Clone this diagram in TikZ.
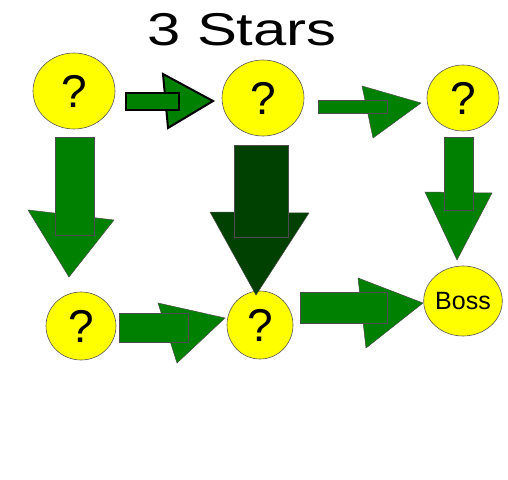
\documentclass[tikz,border=0pt]{standalone}
\usepackage{fontspec}
\setmainfont{Liberation Sans}
\usetikzlibrary{shapes.geometric}
\definecolor{pgreen}{RGB}{0,128,0}
\definecolor{dgreen}{RGB}{0,64,0}
\definecolor{pyellow}{RGB}{255,255,0}
\begin{document}
\begin{tikzpicture}[x=1pt,y=-1pt,
  spot/.style={ellipse,draw=black!65,line width=0.6pt,fill=pyellow,inner sep=0pt},
  qmark/.style={font=\fontsize{46}{46}\selectfont},
  blockarrow/.style={fill=pgreen,draw=black!70,line width=0.5pt,line join=miter},
  darkarrow/.style={fill=dgreen,draw=black!70,line width=0.5pt},
  boldarrow/.style={fill=pgreen,draw=black,line width=2pt}]
\useasboundingbox[fill=white] (0,0) rectangle (508,479);
% title
\node[font=\fontsize{46}{46}\selectfont,xscale=1.3] (title) at (242,30) {3 Stars};
% circles
\node[spot,minimum width=82pt,minimum height=76pt,qmark] (c1) at (74,91) {?};
\node[spot,minimum width=82pt,minimum height=76pt,qmark] (c2) at (263,98) {?};
\node[spot,minimum width=72pt,minimum height=66pt,qmark] (c3) at (463,98) {?};
\node[spot,minimum width=70pt,minimum height=68pt,qmark] (c4) at (81,326) {?};
\node[spot,minimum width=66pt,minimum height=68pt,qmark] (c5) at (260,325) {?};
\node[spot,minimum width=68pt,minimum height=70pt,font=\fontsize{25}{25}\selectfont] (c6) at (463,301) {Boss};
% arrow c1 -> c2 (bold outline)
\draw[boldarrow] (163,74) -- (213,101) -- (168,128) -- cycle;
\draw[boldarrow] (126,93) rectangle (179,110);
% arrow c2 -> c3
\draw[blockarrow] (362,86) -- (421,103) -- (373,138) -- cycle;
\draw[blockarrow] (318,100) rectangle (387,113);
% arrow c1 -> c4
\draw[blockarrow] (28,210) -- (114,220) -- (69,277) -- cycle;
\draw[blockarrow] (55,137) rectangle (94,235);
% arrow c2 -> c5 (dark)
\draw[darkarrow] (210,212) -- (309,213) -- (256,295) -- cycle;
\draw[darkarrow] (234,145) rectangle (288,237);
% arrow c3 -> c6
\draw[blockarrow] (425,192) -- (492,193) -- (457,260) -- cycle;
\draw[blockarrow] (444,137) rectangle (473,210);
% arrow c4 -> c5
\draw[blockarrow] (158,303) -- (225,318) -- (177,363) -- cycle;
\draw[blockarrow] (119,313) rectangle (188,342);
% arrow c5 -> c6
\draw[blockarrow] (358,278) -- (423,303) -- (366,348) -- cycle;
\draw[blockarrow] (300,292) rectangle (387,323);
\end{tikzpicture}
\end{document}
